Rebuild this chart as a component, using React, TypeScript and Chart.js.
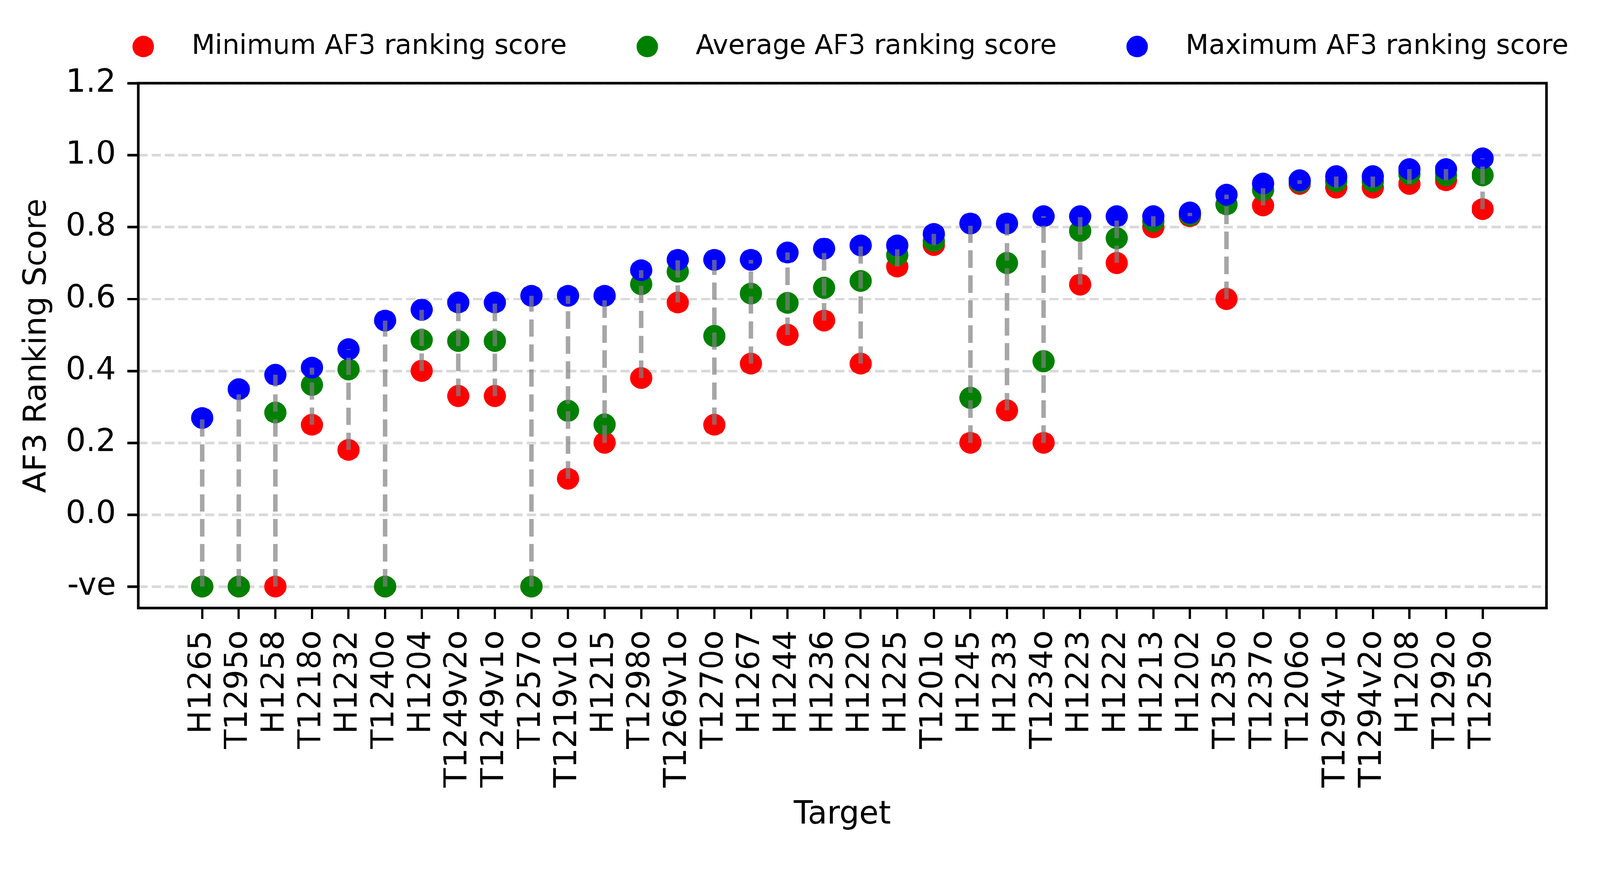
import { useEffect, useRef, useState } from 'react';
import { Chart, registerables } from 'chart.js';

Chart.register(...registerables);

const NEG = -0.2; // plotted position of the "-ve" category

const TARGETS = [
  'H1265', 'T1295o', 'H1258', 'T1218o', 'H1232', 'T1240o', 'H1204', 'T1249v2o', 'T1249v1o',
  'T1257o', 'T1219v1o', 'H1215', 'T1298o', 'T1269v1o', 'T1270o', 'H1267', 'H1244', 'H1236',
  'H1220', 'H1225', 'T1201o', 'H1245', 'H1233', 'T1234o', 'H1223', 'H1222', 'H1213', 'H1202',
  'T1235o', 'T1237o', 'T1206o', 'T1294v1o', 'T1294v2o', 'H1208', 'T1292o', 'T1259o',
];

const MIN_SCORE = [
  NEG, NEG, NEG, 0.25, 0.18, NEG, 0.40, 0.33, 0.33,
  NEG, 0.10, 0.20, 0.38, 0.59, 0.25, 0.42, 0.50, 0.54,
  0.42, 0.69, 0.75, 0.20, 0.29, 0.20, 0.64, 0.70, 0.80, 0.83,
  0.60, 0.86, 0.92, 0.91, 0.91, 0.92, 0.93, 0.85,
];

const AVG_SCORE = [
  NEG, NEG, 0.284, 0.361, 0.404, NEG, 0.486, 0.483, 0.483,
  NEG, 0.289, 0.251, 0.641, 0.676, 0.497, 0.615, 0.589, 0.631,
  0.65, 0.722, 0.761, 0.325, 0.70, 0.427, 0.789, 0.769, 0.816, 0.834,
  0.863, 0.903, 0.925, 0.927, 0.927, 0.947, 0.944, 0.944,
];

const MAX_SCORE = [
  0.269, 0.349, 0.389, 0.409, 0.46, 0.54, 0.57, 0.59, 0.59,
  0.609, 0.609, 0.609, 0.68, 0.709, 0.709, 0.709, 0.729, 0.74,
  0.749, 0.749, 0.781, 0.81, 0.81, 0.83, 0.83, 0.83, 0.83, 0.84,
  0.89, 0.921, 0.93, 0.941, 0.941, 0.961, 0.961, 0.991,
];

const Y_TICKS = [-0.2, 0, 0.2, 0.4, 0.6, 0.8, 1.0, 1.2];
const Y_TICK_LABELS = ['-ve', '0.0', '0.2', '0.4', '0.6', '0.8', '1.0', '1.2'];

const SERIES_LABELS = ['Minimum AF3 ranking score', 'Average AF3 ranking score', 'Maximum AF3 ranking score'];
const SERIES_COLORS = ['#ff0000', '#008000', '#0000ff'];

const W = 4227;
const H = 2256;
const FONT = 'DejaVu Sans';
const TICK_FONT = 83;
const LEGEND_FONT = 71;
const LW = 6.7;

const legendPlugin = {
  id: 'mplLegend',
  afterDraw(chart: any) {
    const ctx = chart.ctx;
    const F = LEGEND_FONT;
    const items = chart.data.datasets
      .filter((d: any) => d.legendIndex !== undefined)
      .sort((a: any, b: any) => a.legendIndex - b.legendIndex);
    ctx.save();
    ctx.font = `${F}px "${FONT}"`;
    const handle = 2 * F;
    const pad = 0.8 * F;
    const col = 2 * F;
    const widths = items.map((d: any) => ctx.measureText(d.label).width);
    const total = widths.reduce((a: number, w: number) => a + handle + pad + w, 0) + col * (items.length - 1);
    const area = chart.chartArea;
    let x = (area.left + area.right) / 2 - total / 2;
    const cy = 123;
    items.forEach((d: any, i: number) => {
      ctx.fillStyle = d.backgroundColor;
      ctx.beginPath();
      ctx.arc(x + handle / 2, cy, 28.5, 0, Math.PI * 2);
      ctx.fill();
      ctx.fillStyle = '#000';
      ctx.textAlign = 'left';
      ctx.textBaseline = 'alphabetic';
      ctx.fillText(d.label, x + handle + pad, cy + 19);
      x += handle + pad + widths[i] + col;
    });
    ctx.restore();
  },
};

const framePlugin = {
  id: 'mplFrame',
  afterDatasetsDraw(chart: any) {
    const { ctx, chartArea: a } = chart;
    ctx.save();
    ctx.strokeStyle = '#000';
    ctx.lineWidth = LW;
    ctx.strokeRect(a.left, a.top, a.right - a.left, a.bottom - a.top);
    ctx.restore();
  },
};

function fitScale() {
  if (typeof window === 'undefined') return 1;
  const s = Math.min(window.innerWidth / W, window.innerHeight / H);
  return s > 0 && s < 1 ? s : 1;
}

export default function App() {
  const ref = useRef<HTMLCanvasElement | null>(null);
  const [scale] = useState(fitScale);

  useEffect(() => {
    if (!ref.current) return;
    Chart.defaults.font.family = FONT;
    Chart.defaults.color = '#000';

    const pts = (arr: number[]) => arr.map((y, i) => ({ x: i, y }));
    const connectors: any[] = [];
    TARGETS.forEach((_, i) => {
      connectors.push({ x: i, y: MIN_SCORE[i] }, { x: i, y: MAX_SCORE[i] }, { x: i, y: null });
    });

    const pointSet = (k: number, data: number[], order: number) => ({
      label: SERIES_LABELS[k],
      data: pts(data),
      backgroundColor: SERIES_COLORS[k],
      borderColor: SERIES_COLORS[k],
      pointRadius: 29,
      pointHoverRadius: 29,
      pointBorderWidth: 0,
      showLine: false,
      order,
      legendIndex: k,
    });

    const chart = new Chart(ref.current, {
      type: 'scatter',
      data: {
        datasets: [
          {
            label: '',
            data: connectors,
            showLine: true,
            spanGaps: false,
            borderColor: 'rgba(128,128,128,0.7)',
            borderWidth: 12.5,
            borderDash: [46, 20],
            borderCapStyle: 'butt',
            pointRadius: 0,
            pointHoverRadius: 0,
            order: 0,
          } as any,
          pointSet(2, MAX_SCORE, 1),
          pointSet(1, AVG_SCORE, 2),
          pointSet(0, MIN_SCORE, 3),
        ],
      },
      options: {
        animation: false,
        responsive: false,
        devicePixelRatio: 1,
        events: [],
        layout: { padding: { top: 220, right: 141, left: 0, bottom: 0 } },
        plugins: {
          legend: { display: false },
          tooltip: { enabled: false },
        },
        scales: {
          x: {
            type: 'linear',
            bounds: 'data',
            min: -1.75,
            max: 36.75,
            afterBuildTicks: (s: any) => {
              s.ticks = TARGETS.map((_, i) => ({ value: i }));
            },
            afterFit: (s: any) => {
              s.height = 649;
            },
            ticks: {
              autoSkip: false,
              minRotation: 90,
              maxRotation: 90,
              padding: 30,
              font: { size: TICK_FONT, family: FONT },
              color: '#000',
              callback: (_v: any, i: number) => TARGETS[i],
            },
            grid: {
              drawOnChartArea: false,
              drawTicks: true,
              tickLength: 29,
              tickWidth: LW,
              tickColor: '#000',
              color: '#000',
              lineWidth: LW,
            },
            border: { display: false },
            title: {
              display: true,
              text: 'Target',
              font: { size: TICK_FONT, family: FONT },
              color: '#000',
              padding: { top: 0, bottom: 52 },
            },
          },
          y: {
            type: 'linear',
            bounds: 'data',
            min: -0.26,
            max: 1.2,
            afterBuildTicks: (s: any) => {
              s.ticks = Y_TICKS.map((value) => ({ value }));
            },
            afterFit: (s: any) => {
              s.width = 365;
            },
            ticks: {
              padding: 30,
              font: { size: TICK_FONT, family: FONT },
              color: '#000',
              callback: (_v: any, i: number) => Y_TICK_LABELS[i],
            },
            grid: {
              drawOnChartArea: true,
              drawTicks: true,
              tickLength: 29,
              tickWidth: LW,
              tickColor: '#000',
              tickBorderDash: [],
              color: 'rgba(128,128,128,0.3)',
              lineWidth: LW,
            },
            border: { display: false, dash: [24.7, 10.7] },
            title: {
              display: true,
              text: 'AF3 Ranking Score',
              font: { size: TICK_FONT, family: FONT },
              color: '#000',
              padding: { top: 50, bottom: 0 },
            },
          },
        },
      } as any,
      plugins: [legendPlugin, framePlugin],
    });

    return () => chart.destroy();
  }, []);

  return (
    <div
      style={{
        position: 'fixed',
        left: 0,
        top: 0,
        width: W,
        height: H,
        background: '#fff',
        transform: `scale(${scale})`,
        transformOrigin: '0 0',
      }}
    >
      <canvas ref={ref} width={W} height={H} style={{ width: W, height: H, display: 'block' }} />
    </div>
  );
}
